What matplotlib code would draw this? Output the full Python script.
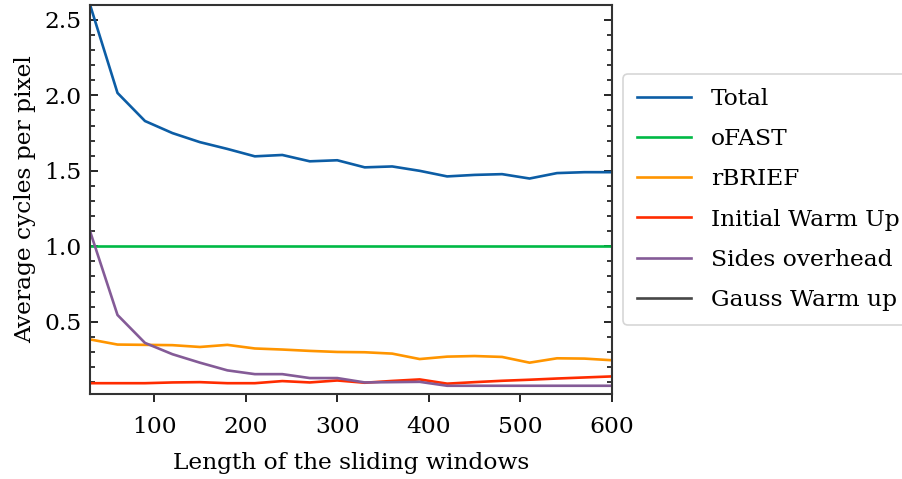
import matplotlib
matplotlib.use("Agg")
import matplotlib.pyplot as plt
from matplotlib.ticker import MultipleLocator

window = [30, 60, 90, 120, 150, 180, 210, 240, 270, 300,
          330, 360, 390, 420, 450, 480, 510, 540, 570, 600]
total = [2.60, 2.016, 1.83, 1.75, 1.69, 1.645, 1.596, 1.605, 1.563, 1.57,
         1.523, 1.529, 1.50, 1.463, 1.473, 1.478, 1.449, 1.485, 1.491, 1.491]
ofast = [1.0] * 20
rbrief = [0.383, 0.349, 0.347, 0.345, 0.333, 0.347, 0.323, 0.316, 0.307, 0.300,
          0.298, 0.289, 0.253, 0.269, 0.273, 0.267, 0.229, 0.258, 0.256, 0.245]
init_warm = [0.093, 0.093, 0.093, 0.098, 0.100, 0.093, 0.093, 0.107, 0.098, 0.111,
             0.096, 0.108, 0.118, 0.090, 0.100, 0.109, 0.116, 0.124, 0.131, 0.138]
sides = [1.10, 0.545, 0.36, 0.285, 0.229, 0.178, 0.153, 0.153, 0.127, 0.127,
         0.098, 0.100, 0.102, 0.076, 0.076, 0.076, 0.076, 0.076, 0.076, 0.076]
gauss = [0.02] * 20

series = [
    ("Total", total, "#0C5DA5"),
    ("oFAST", ofast, "#00B945"),
    ("rBRIEF", rbrief, "#FF9500"),
    ("Initial Warm Up", init_warm, "#FF2C00"),
    ("Sides overhead", sides, "#845B97"),
    ("Gauss Warm up", gauss, "#474747"),
]

plt.rcParams['font.family'] = ['DejaVu Serif']
plt.rcParams['mathtext.fontset'] = 'dejavuserif'

FS = 16.8
fig = plt.figure(figsize=(9.03, 4.79), dpi=100)
ax = fig.add_axes([0.0997, 0.177, 0.578, 0.813])

for name, vals, col in series:
    ax.plot(window, vals, color=col, lw=1.9, label=name)

ax.set_xlim(30, 600)
ax.set_ylim(0.02, 2.6)
ax.set_xticks([100, 200, 300, 400, 500, 600])
ax.set_yticks([0.5, 1.0, 1.5, 2.0, 2.5])
ax.yaxis.set_minor_locator(MultipleLocator(0.1))

for s in ax.spines.values():
    s.set_linewidth(1.5)
    s.set_color("#333333")

ax.tick_params(axis='y', which='major', direction='in', length=6, width=1.2,
               left=True, right=True, labelsize=FS, pad=6)
ax.tick_params(axis='y', which='minor', direction='in', length=3.5, width=1.1,
               left=True, right=True)
ax.tick_params(axis='x', which='major', direction='out', length=6, width=1.2,
               labelsize=FS, top=False, pad=10)
ax.tick_params(axis='x', which='minor', bottom=False, top=False)

ax.set_xlabel("Length of the sliding windows", fontsize=FS, labelpad=10)
ax.set_ylabel("Average cycles per pixel", fontsize=FS, labelpad=6)

leg = ax.legend(loc='center left', bbox_to_anchor=(1.022, 0.5), fontsize=FS,
                frameon=True, fancybox=True, handlelength=2.3, borderpad=0.6,
                labelspacing=0.78, handletextpad=0.85, borderaxespad=0)
leg.get_frame().set_edgecolor("#cccccc")
leg.get_frame().set_linewidth(1.2)

fig.savefig("out.png", dpi=100)
